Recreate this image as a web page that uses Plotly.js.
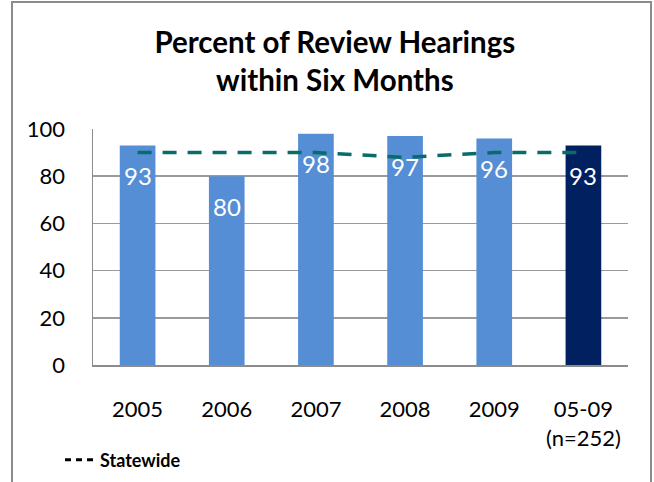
<!DOCTYPE html>
<html>
<head>
<meta charset="utf-8">
<script src="https://cdn.plot.ly/plotly-3.0.1.min.js"></script>
<style>
html,body{margin:0;padding:0;background:#fff;}
#chart{width:654px;height:482px;}
</style>
</head>
<body>
<div id="chart"></div>
<script>
const categories = ["2005", "2006", "2007", "2008", "2009", "05-09"];
const tickLabels = ["2005", "2006", "2007", "2008", "2009", "05-09<br>(n=252)"];
const countyValues = [93, 80, 98, 97, 96, 93];
const statewideValues = [90, 90, 90, 88, 90, 90];
const barColors = ["#558ED5", "#558ED5", "#558ED5", "#558ED5", "#558ED5", "#002060"];

const FONT = "Lato, 'Open Sans', sans-serif";

const traces = [
  {
    type: "bar",
    x: categories,
    y: countyValues,
    marker: {color: barColors},
    showlegend: false,
    hoverinfo: "skip"
  },
  {
    type: "scatter",
    mode: "lines",
    x: categories,
    y: statewideValues,
    line: {color: "#0A6B6B", width: 3.5, dash: "14px,11px"},
    showlegend: false,
    hoverinfo: "skip"
  },
  {
    type: "scatter",
    mode: "lines",
    x: [categories[0]],
    y: [null],
    name: "<b>Statewide</b>",
    line: {color: "#000000", width: 3, dash: "6px,5px"},
    showlegend: true,
    hoverinfo: "skip"
  }
];

// value labels inside the bars (x given as category index)
const annotations = categories.map((c, i) => ({
  x: i,
  y: countyValues[i],
  xref: "x",
  yref: "y",
  text: String(countyValues[i]),
  showarrow: false,
  yanchor: "middle",
  yshift: -30,
  font: {family: FONT, size: 24, color: "#ffffff"}
}));

// outer chart border (plot area spans x 93..628, y 129..365)
const px = v => (v - 93) / 535;
const py = v => (365 - v) / 236;

const layout = {
  width: 654,
  height: 482,
  margin: {l: 93, r: 26, t: 129, b: 117, autoexpand: false},
  paper_bgcolor: "#ffffff",
  plot_bgcolor: "#ffffff",
  font: {family: FONT, size: 22, color: "#000000"},
  title: {
    text: "<b>Percent of Review Hearings<br>within Six Months</b>",
    font: {family: FONT, size: 29.5, color: "#000000"},
    x: 0.512,
    xanchor: "center",
    xref: "container",
    y: 0.89,
    yanchor: "top",
    yref: "container"
  },
  bargap: 0.6,
  xaxis: {
    type: "category",
    categoryorder: "array",
    categoryarray: categories,
    range: [-0.5, categories.length - 0.5],
    tickvals: categories,
    ticktext: tickLabels,
    showgrid: false,
    showline: true,
    linecolor: "#8c8c8c",
    linewidth: 2,
    ticks: "",
    tickangle: 0,
    automargin: false,
    ticklabelstandoff: 24,
    tickfont: {family: FONT, size: 22, color: "#000000"}
  },
  yaxis: {
    range: [0, 100],
    dtick: 20,
    tick0: 0,
    showgrid: true,
    gridcolor: "#9a9a9a",
    gridwidth: 1.5,
    zeroline: false,
    showline: true,
    linecolor: "#8c8c8c",
    linewidth: 1.5,
    ticks: "",
    automargin: false,
    ticklabelstandoff: 22,
    tickfont: {family: FONT, size: 22, color: "#000000"}
  },
  legend: {
    orientation: "h",
    x: px(60),
    xanchor: "left",
    y: py(460),
    yanchor: "middle",
    font: {family: FONT, size: 18, color: "#000000"},
    bgcolor: "rgba(0,0,0,0)"
  },
  annotations: annotations,
  shapes: [
    {
      type: "rect",
      xref: "paper",
      yref: "paper",
      x0: px(12),
      x1: px(651),
      y0: py(500),
      y1: py(2),
      line: {color: "#8c8c8c", width: 2},
      fillcolor: "rgba(0,0,0,0)",
      layer: "below"
    }
  ]
};

Plotly.newPlot("chart", traces, layout, {displayModeBar: false, staticPlot: true});
</script>
</body>
</html>
